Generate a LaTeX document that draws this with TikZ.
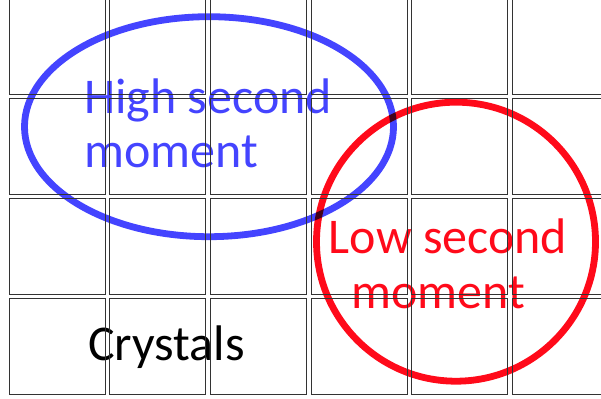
\documentclass[tikz,border=0pt]{standalone}
\usepackage{fontspec}
\setmainfont{Carlito}
\usetikzlibrary{positioning, shapes.geometric}
\definecolor{hiblue}{RGB}{68,68,255}
\definecolor{lored}{RGB}{255,10,26}

\begin{document}
\begin{tikzpicture}[x=1pt, y=-1pt]
  \tikzstyle{cell}=[draw=black!80, line width=1.2pt, minimum size=96pt, inner sep=0pt]
  \tikzstyle{ring}=[line width=6.8pt, inner sep=0pt]
  \tikzstyle{txt}=[font=\fontsize{50}{54}\selectfont, inner sep=0pt]
  \useasboundingbox (0,0) rectangle (601,398);
  \begin{scope}[blend group=multiply]
    \node[ring, ellipse, draw=hiblue, minimum width=369pt, minimum height=220pt] (high) at (209,126.7) {};
    \node[ring, circle, draw=lored, minimum size=279pt] (low) at (456,241.7) {};
  \end{scope}
  \node[txt, text=hiblue, align=left, anchor=base west] (hightxt) at (84,167) {High second\\moment};
  \node[txt, text=lored, align=center, anchor=base] (lowtxt) at (448,308) {Low second\\[1pt]moment\hspace*{20pt}};
  \node[txt, anchor=base west] (crystals) at (88,360) {Crystals};
  \foreach \i in {0,...,5}
    \foreach \j in {0,...,3}
      \node[cell] (c\i\j) at (57.2+100.66*\i, 46.2+100.1*\j) {};
\end{tikzpicture}
\end{document}
